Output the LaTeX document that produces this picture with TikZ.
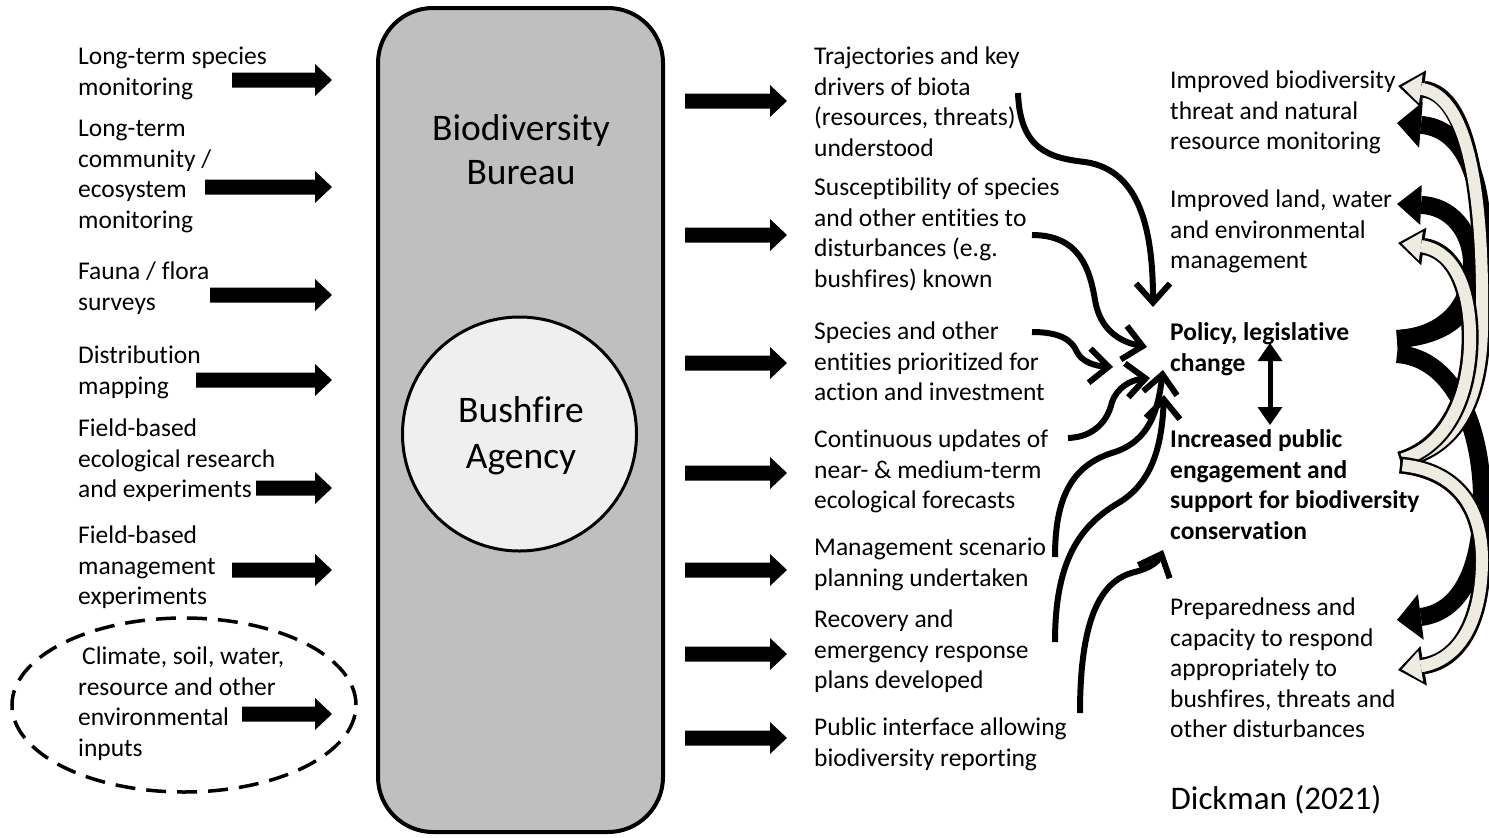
\documentclass[tikz,border=0pt]{standalone}
\usepackage{fontspec}
\setmainfont{Carlito}[Ligatures=NoCommon]
\usetikzlibrary{arrows.meta,shapes.geometric}
\definecolor{boxgray}{HTML}{BFBFBF}
\definecolor{circgray}{HTML}{EFEFEF}
\definecolor{cream}{HTML}{EEECE1}
\tikzset{
  txt/.style={anchor=north west, inner sep=0pt, align=left, font=\fontsize{25.5}{30.5}\selectfont},
  btxt/.style={txt, font=\fontsize{25.5}{30.5}\selectfont\bfseries},
  bigtxt/.style={inner sep=0pt, align=center, font=\fontsize{37.5}{45}\selectfont},
  thinarr/.style={line width=6pt, -{Straight Barb[length=19pt,width=34pt]}},
  blackcurve/.style={line width=18pt, black, -{Triangle[length=24pt,width=#1,line width=0pt]}},
  creamout/.style={line width=17pt, black, -{Triangle[length=26pt,width=#1,line width=0pt]}},
  creamin/.style={line width=12pt, cream, shorten <=2.5pt, shorten >=4pt, -{Triangle[length=19pt,width=#1,line width=0pt]}},
}
\newcommand\blockarrow[3]{\fill (#1,#3-7.5) -- ({#2-17},#3-7.5) -- ({#2-17},#3-16) -- (#2,#3) -- ({#2-17},#3+16) -- ({#2-17},#3+7.5) -- (#1,#3+7.5) -- cycle;}
\begin{document}
\begin{tikzpicture}[x=1pt,y=-1pt]
\useasboundingbox (0,0) rectangle (1489,838);

% central box and circle
\node[draw, fill=boxgray, line width=4pt, rounded corners=55pt, minimum width=285pt, minimum height=824pt, inner sep=0pt] (box) at (520.5,420) {};
\node[circle, draw, fill=circgray, line width=3pt, minimum size=234pt, inner sep=0pt] (circ) at (519.5,434) {};
\node[bigtxt, font=\fontsize{37.5}{44}\selectfont] (bureau) at (521,150) {Biodiversity\\Bureau};
\node[bigtxt, font=\fontsize{37.5}{46}\selectfont] (agency) at (521,436) {Bushfire\\Agency};

% left inputs
\node[txt] (l1) at (78,43) {\strut Long-term species\\monitoring};
\node[txt] (l2) at (78,115) {\strut Long-term\\community /\\ecosystem\\monitoring};
\node[txt] (l3) at (78,258) {\strut Fauna / flora\\surveys};
\node[txt] (l4) at (78,342) {\strut Distribution\\mapping};
\node[txt] (l5) at (78,415) {\strut Field-based\\ecological research\\and experiments};
\node[txt] (l6) at (78,522) {\strut Field-based\\management\\experiments};
\node[txt] (l7) at (78,643) {\strut\hspace*{4pt}Climate, soil, water,\\resource and other\\environmental\\inputs};
\draw[line width=3.5pt, dash pattern=on 20pt off 11pt] (184,705) ellipse [x radius=172pt, y radius=87pt];

\blockarrow{232}{332}{80}
\blockarrow{205}{332}{187}
\blockarrow{210}{332}{295}
\blockarrow{196}{332}{380}
\blockarrow{256}{332}{488}
\blockarrow{232}{332}{570}
\blockarrow{242}{332}{714}

% middle outputs
\blockarrow{685}{787}{101}
\blockarrow{685}{787}{235}
\blockarrow{685}{787}{363}
\blockarrow{685}{787}{473}
\blockarrow{685}{787}{570}
\blockarrow{685}{787}{654}
\blockarrow{685}{787}{738}

\node[txt] (m1) at (814,43) {\strut Trajectories and key\\drivers of biota\\(resources, threats)\\understood};
\node[txt] (m2) at (814,174) {\strut Susceptibility of species\\and other entities to\\disturbances (e.g.\\bushfires) known};
\node[txt] (m3) at (814,318) {\strut Species and other\\entities prioritized for\\action and investment};
\node[txt] (m4) at (814,426) {\strut Continuous updates of\\near- \& medium-term\\ecological forecasts};
\node[txt] (m5) at (814,534) {\strut Management scenario\\planning undertaken};
\node[txt] (m6) at (814,606) {\strut Recovery and\\emergency response\\plans developed};
\node[txt] (m7) at (814,714) {\strut Public interface allowing\\biodiversity reporting};

% right outcomes
\node[txt] (r1) at (1170,67) {\strut Improved biodiversity\\threat and natural\\resource monitoring};
\node[txt] (r2) at (1170,186) {\strut Improved land, water\\and environmental\\management};
\node[btxt] (policy) at (1170,319) {\strut Policy, legislative\\change};
\node[btxt] (public) at (1170,426) {\strut Increased public\\engagement and\\support for biodiversity\\conservation};
\node[txt] (r5) at (1170,594) {\strut Preparedness and\\capacity to respond\\appropriately to\\bushfires, threats and\\other disturbances};
\node[inner sep=0pt, font=\fontsize{33}{40}\selectfont] (cite) at (1276,800) {Dickman (2021)};

% thin curved arrows
\coordinate (sa) at (1018,93);   \coordinate (ea) at (1153,307);
\coordinate (sb) at (1032,235);  \coordinate (eb) at (1147,347);
\coordinate (sc) at (1032,332);  \coordinate (ec) at (1113,367);
\coordinate (sd) at (1068,438);  \coordinate (ed) at (1150,378);
\coordinate (se) at (1055,557);  \coordinate (ee) at (1163,370);
\coordinate (sf) at (1055,642);  \coordinate (ef) at (1164,395);
\coordinate (sg) at (1080,713);  \coordinate (eg) at (1163,550);
\draw[thinarr] (sa) .. controls (1020,150) and (1050,158) .. (1085,162) .. controls (1140,170) and (1153,230) .. (ea);
\draw[thinarr] (sb) .. controls (1080,235) and (1090,270) .. (1095,300) .. controls (1100,330) and (1120,342) .. (eb);
\draw[thinarr] (sc) .. controls (1060,332) and (1072,340) .. (1077,352) .. controls (1082,362) and (1095,366) .. (ec);
\draw[thinarr] (sd) .. controls (1095,437) and (1108,420) .. (1112,402) .. controls (1117,388) and (1130,380) .. (ed);
\draw[thinarr] (se) .. controls (1055,500) and (1070,465) .. (1115,452) .. controls (1150,440) and (1158,410) .. (ee);
\draw[thinarr] (sf) .. controls (1055,560) and (1080,525) .. (1120,502) .. controls (1155,480) and (1162,440) .. (ef);
\draw[thinarr] (sg) .. controls (1080,620) and (1100,580) .. (1135,572) .. controls (1150,568) and (1158,562) .. (eg);

% double arrow between policy and public
\coordinate (dtop) at (1270,343);
\coordinate (dbot) at (1270,425);
\draw[line width=5pt, {Triangle[length=18pt,width=25pt,line width=0pt]}-{Triangle[length=18pt,width=25pt,line width=0pt]}] (dtop) -- (dbot);

% big curved arrows on the right
\coordinate (bt1) at (1397,339);
\coordinate (bt2) at (1397,354);
\coordinate (wt1) at (1400,460);
\coordinate (wt2) at (1400,465);
\coordinate (hb1) at (1397,123);
\coordinate (hb2) at (1397,204);
\coordinate (hb3) at (1397,620);
\coordinate (hw1) at (1398,86);
\coordinate (hw2) at (1398,243);
\coordinate (hw3) at (1398,670);

\draw[blackcurve=46pt] (bt1) .. controls (1460,335) and (1485,300) .. (1482,230) .. controls (1480,170) and (1460,128) .. (hb1);
\draw[blackcurve=40pt] (bt1) .. controls (1450,336) and (1472,300) .. (1472,265) .. controls (1472,230) and (1450,206) .. (hb2);
\draw[blackcurve=46pt] (bt2) .. controls (1455,358) and (1482,430) .. (1482,500) .. controls (1482,570) and (1460,612) .. (hb3);

\draw[creamout=38pt] (wt1) .. controls (1450,450) and (1480,410) .. (1482,330) .. controls (1484,200) and (1470,95) .. (hw1);
\draw[creamin=29pt] (wt1) .. controls (1450,450) and (1480,410) .. (1482,330) .. controls (1484,200) and (1470,95) .. (hw1);
\draw[creamout=38pt] (wt1) .. controls (1450,445) and (1472,390) .. (1470,330) .. controls (1468,280) and (1450,250) .. (hw2);
\draw[creamin=29pt] (wt1) .. controls (1450,445) and (1472,390) .. (1470,330) .. controls (1468,280) and (1450,250) .. (hw2);
\draw[creamout=40pt] (wt2) .. controls (1450,470) and (1482,500) .. (1482,560) .. controls (1482,620) and (1460,660) .. (hw3);
\draw[creamin=31pt] (wt2) .. controls (1450,470) and (1482,500) .. (1482,560) .. controls (1482,620) and (1460,660) .. (hw3);
\end{tikzpicture}
\end{document}
